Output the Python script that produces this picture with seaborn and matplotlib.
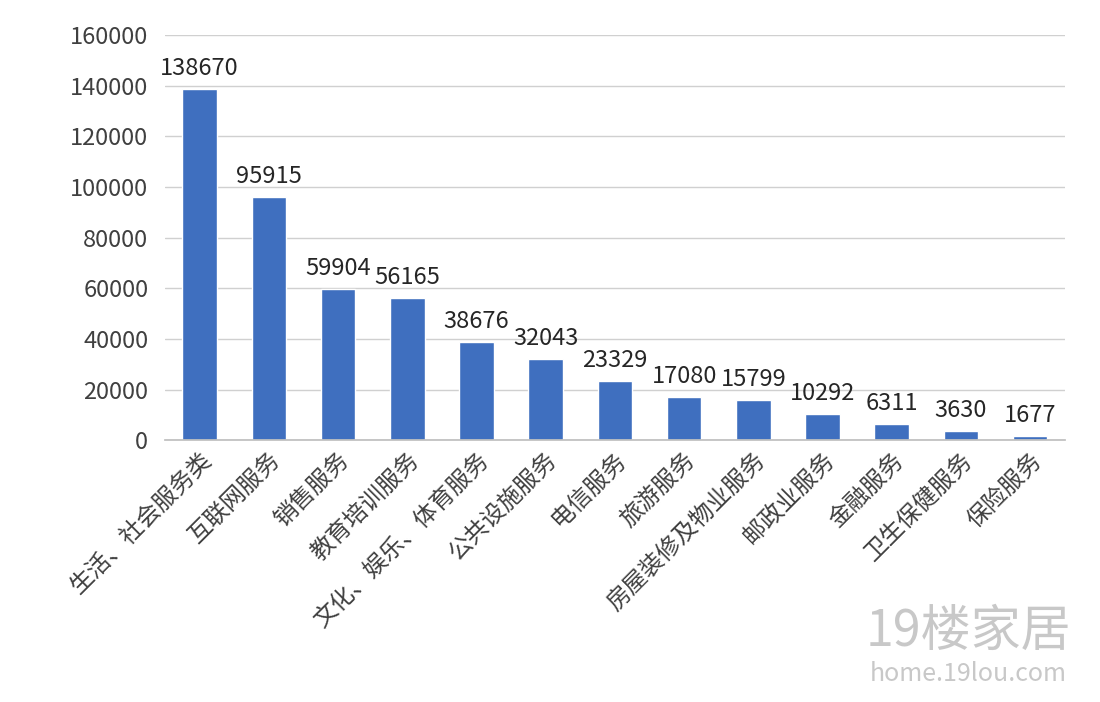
import matplotlib
matplotlib.use("Agg")
import matplotlib.pyplot as plt
import seaborn as sns
import pandas as pd

categories = ["生活、社会服务类", "互联网服务", "销售服务", "教育培训服务", "文化、娱乐、体育服务",
              "公共设施服务", "电信服务", "旅游服务", "房屋装修及物业服务", "邮政业服务",
              "金融服务", "卫生保健服务", "保险服务"]
values = [138670, 95915, 59904, 56165, 38676, 32043, 23329, 17080, 15799, 10292, 6311, 3630, 1677]
yticks = [0, 20000, 40000, 60000, 80000, 100000, 120000, 140000, 160000]

sns.set_theme(style="white")
plt.rcParams['font.family'] = ['Noto Sans CJK SC', 'DejaVu Sans']

df = pd.DataFrame({"cat": categories, "val": values})
fig = plt.figure(figsize=(11, 7.02), dpi=100)
ax = fig.add_axes([0.15, 0.373, 0.818, 0.577])
sns.barplot(data=df, x="cat", y="val", color="#3f6fbf", width=0.5, saturation=1, ax=ax)
ax.set_ylim(0, 160000)
ax.set_yticks(yticks)
ax.set_yticklabels([str(v) for v in yticks], fontsize=17, color="#404040")
ax.yaxis.grid(True, color="#d0d0d0", linewidth=1)
ax.set_axisbelow(True)
for s in ["top", "right", "left"]:
    ax.spines[s].set_visible(False)
ax.spines["bottom"].set_color("#bfbfbf")
ax.set_xlabel("")
ax.set_ylabel("")
ax.tick_params(axis="y", length=0, pad=12)
ax.tick_params(axis="x", length=0, pad=6)
ax.set_xticks(range(len(categories)))
ax.set_xticklabels(categories, rotation=45, ha="right", rotation_mode="anchor", fontsize=17, color="#404040")
for i, v in enumerate(values):
    ax.text(i, v + 3500, str(v), ha="center", va="bottom", fontsize=17, color="#262626")
fig.text(0.88, 0.1, "19楼家居", fontsize=36, color="#c8c8c8", ha="center", va="center")
fig.text(0.88, 0.04, "home.19lou.com", fontsize=18, color="#c8c8c8", ha="center", va="center")
fig.savefig("out.png", dpi=100, facecolor="white")
